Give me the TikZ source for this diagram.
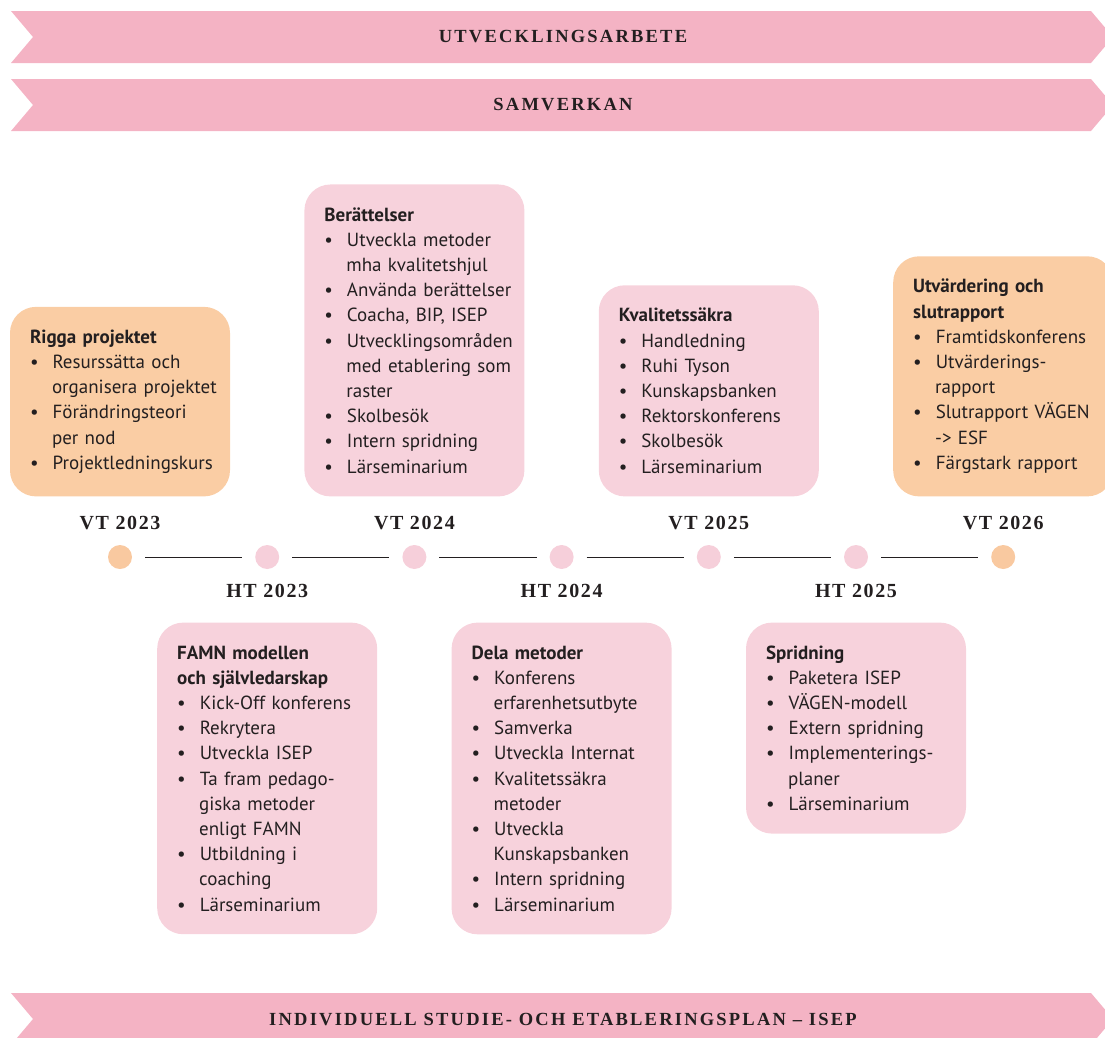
\documentclass[tikz,border=0pt]{standalone}
\usepackage{fontspec}
\setmainfont{PT Sans}
\newfontfamily\tidfont[LetterSpace=8]{Liberation Serif}
\newfontfamily\bandfont[LetterSpace=12]{Liberation Serif}
\usepackage{tikz}
\usetikzlibrary{positioning}

\definecolor{bandrosa}{HTML}{F4B3C4}
\definecolor{rutrosa}{HTML}{F7D2DC}
\definecolor{rutorange}{HTML}{FACDA4}
\definecolor{prickrosa}{HTML}{F6CFDA}
\definecolor{prickorange}{HTML}{F9C9A0}
\definecolor{mork}{HTML}{231F20}

% punktlista i rutorna
\newenvironment{punkter}{\begin{list}{\textbullet}{%
  \setlength{\leftmargin}{22pt}\setlength{\labelwidth}{8pt}%
  \setlength{\labelsep}{14pt}\setlength{\rightmargin}{-20pt}%
  \setlength{\topsep}{0pt}\setlength{\partopsep}{0pt}%
  \setlength{\itemsep}{0pt}\setlength{\parsep}{0pt}}}{\end{list}}

\begin{document}
\begin{tikzpicture}[x=1pt,y=-1pt]

\tikzset{band/.style={fill=bandrosa},
  bandtext/.style={font=\bandfont\bfseries\fontsize{18.5}{18.5}\selectfont, text=mork},
  prick/.style={circle, minimum size=24pt, inner sep=0pt, outer sep=0pt},
  termin/.style={font=\tidfont\bfseries\fontsize{20}{20}\selectfont, text=mork,
    inner sep=0pt, text height=13pt, text depth=0pt},
  ruta/.style={rounded corners=26pt, text width=180pt, inner xsep=20pt, inner ysep=23pt,
    text=mork, align=left, font=\fontsize{19}{25.2}\selectfont},
  rosaruta/.style={ruta, fill=rutrosa},
  orangeruta/.style={ruta, fill=rutorange}}

\useasboundingbox (0,0) rectangle (1105,1037);

% banden
\foreach \y/\namn/\txt in {11/arbete/UTVECKLINGSARBETE, 79/samverkan/SAMVERKAN,
    993/isep/{INDIVIDUELL STUDIE- OCH ETABLERINGSPLAN – ISEP}}{
  \fill[band] (11,\y) -- ++(1080,0) -- ++(22,26) -- ++(-22,26) -- ++(-1080,0) -- ++(22,-26) -- cycle;
  \node[bandtext] (\namn) at (563,\y+26) {\txt};
}

% tidslinjen
\foreach \i/\f in {0/prickorange,1/prickrosa,2/prickrosa,3/prickrosa,4/prickrosa,5/prickrosa,6/prickorange}
  \node[prick, fill=\f] (p\i) at (120+147.2*\i,557) {};
\foreach \i/\j in {0/1,1/2,2/3,3/4,4/5,5/6}
  \draw[mork, line width=1pt, shorten <=13pt, shorten >=13pt] (p\i) -- (p\j);

\node[termin, above=15pt of p0] (vt23) {VT 2023};
\node[termin, below=15pt of p1] (ht23) {HT 2023};
\node[termin, above=15pt of p2] (vt24) {VT 2024};
\node[termin, below=15pt of p3] (ht24) {HT 2024};
\node[termin, above=15pt of p4] (vt25) {VT 2025};
\node[termin, below=15pt of p5] (ht25) {HT 2025};
\node[termin, above=15pt of p6] (vt26) {VT 2026};

% rutorna ovanfor
\node[orangeruta, above=20pt of vt23] (rigga) {\textbf{Rigga projektet}
  \begin{punkter}
  \item Resurssätta och\\organisera projektet
  \item Förändringsteori\\per nod
  \item Projektledningskurs
  \end{punkter}};
\node[rosaruta, above=20pt of vt24] (berattelser) {\textbf{Berättelser}
  \begin{punkter}
  \item Utveckla metoder\\mha kvalitetshjul
  \item Använda berättelser
  \item Coacha, BIP, ISEP
  \item Utvecklingsområden\\med etablering som\\raster
  \item Skolbesök
  \item Intern spridning
  \item Lärseminarium
  \end{punkter}};
\node[rosaruta, above=20pt of vt25] (kvalitet) {\textbf{Kvalitetssäkra}
  \begin{punkter}
  \item Handledning
  \item Ruhi Tyson
  \item Kunskapsbanken
  \item Rektorskonferens
  \item Skolbesök
  \item Lärseminarium
  \end{punkter}};
\node[orangeruta, above=20pt of vt26] (utvardering) {\textbf{Utvärdering och\\slutrapport}
  \begin{punkter}
  \item Framtidskonferens
  \item Utvärderings-\\rapport
  \item Slutrapport VÄGEN\\-> ESF
  \item Färgstark rapport
  \end{punkter}};

% rutorna nedanfor
\node[rosaruta, below=25pt of ht23] (famn) {\textbf{FAMN modellen\\och självledarskap}
  \begin{punkter}
  \item Kick-Off konferens
  \item Rekrytera
  \item Utveckla ISEP
  \item Ta fram pedago-\\giska metoder\\enligt FAMN
  \item Utbildning i\\coaching
  \item Lärseminarium
  \end{punkter}};
\node[rosaruta, below=25pt of ht24] (dela) {\textbf{Dela metoder}
  \begin{punkter}
  \item Konferens\\erfarenhetsutbyte
  \item Samverka
  \item Utveckla Internat
  \item Kvalitetssäkra\\metoder
  \item Utveckla\\Kunskapsbanken
  \item Intern spridning
  \item Lärseminarium
  \end{punkter}};
\node[rosaruta, below=25pt of ht25] (spridning) {\textbf{Spridning}
  \begin{punkter}
  \item Paketera ISEP
  \item VÄGEN-modell
  \item Extern spridning
  \item Implementerings-\\planer
  \item Lärseminarium
  \end{punkter}};

\end{tikzpicture}
\end{document}
